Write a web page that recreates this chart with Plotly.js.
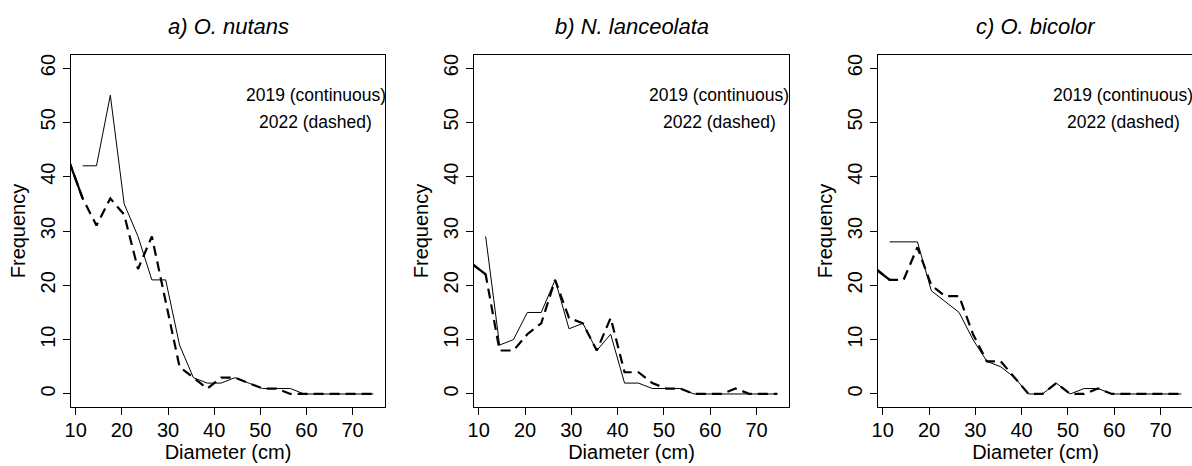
<!DOCTYPE html>
<html>
<head>
<meta charset="utf-8">
<script src="https://cdn.plot.ly/plotly-3.0.1.min.js"></script>
<style>
html, body { margin:0; padding:0; overflow:hidden; background:#fff; }
#chart { width:1194px; height:466px; }
</style>
</head>
<body>
<div id="chart"></div>
<script>
// Diameter class midpoints (cm)
const x2019 = [11.5,14.5,17.5,20.5,23.5,26.5,29.5,32.5,35.5,38.5,41.5,44.5,47.5,50.5,53.5,56.5,59.5,62.5,65.5,68.5,71.5,74.5];
const x2022 = [8.5,11.5,14.5,17.5,20.5,23.5,26.5,29.5,32.5,35.5,38.5,41.5,44.5,47.5,50.5,53.5,56.5,59.5,62.5,65.5,68.5,71.5,74.5];

// Frequencies
const nutans2019 = [42,42,55,35,29,21,21,9,3,2,2,3,2,1,1,1,0,0,0,0,0,0];
const nutans2022 = [43,36,31,36,33,23,29,17,5,3,1,3,3,2,1,1,0,0,0,0,0,0,0];
const lanceolata2019 = [29,9,10,15,15,21,12,13,8,11,2,2,1,1,1,0,0,0,0,0,0,0];
const lanceolata2022 = [24,22,8,8,11,13,21,14,13,8,14,4,4,2,1,1,0,0,0,1,0,0,0];
const bicolor2019 = [28,28,28,19,17,15,10,6,5,3,0,0,2,0,1,1,0,0,0,0,0,0];
const bicolor2022 = [23,21,21,27,20,18,18,11,6,6,3,0,0,2,0,0,1,0,0,0,0,0,0];

const panelTitles = ["a) O. nutans", "b) N. lanceolata", "c) O. bicolor"];
const xTicks = [10,20,30,40,50,60,70];
const yTicks = [0,10,20,30,40,50,60];
const label2019 = "2019 (continuous)";
const label2022 = "2022 (dashed)";

const series = [
  [nutans2019, nutans2022],
  [lanceolata2019, lanceolata2022],
  [bicolor2019, bicolor2022]
];

const W = 1194, H = 466;
const FONT = "Liberation Sans, Arial, Helvetica, sans-serif";
const boxes = [[71,385],[474,789],[878,1193]];
const yDom = [1 - 407/H, 1 - 55/H];

const traces = [];
const layout = {
  width: W, height: H,
  margin: {l:0, r:0, t:0, b:0},
  paper_bgcolor: "#fff", plot_bgcolor: "#fff",
  showlegend: false,
  font: {family: FONT, color: "#000", size: 20},
  annotations: []
};

series.forEach((s, i) => {
  const n = i === 0 ? "" : String(i + 1);
  const xa = "x" + n, ya = "y" + n;
  traces.push({x: x2019, y: s[0], xaxis: xa, yaxis: ya, mode: "lines",
               line: {color: "#000", width: 1}, hoverinfo: "skip"});
  traces.push({x: x2022, y: s[1], xaxis: xa, yaxis: ya, mode: "lines",
               line: {color: "#000", width: 2.2, dash: "10px,6px"}, hoverinfo: "skip"});
  traces.push({x: x2022.slice(0, 2), y: s[1].slice(0, 2), xaxis: xa, yaxis: ya, mode: "lines",
               line: {color: "#000", width: 2.2}, hoverinfo: "skip"});

  const axBase = {
    showline: true, mirror: true, linecolor: "#000", linewidth: 1,
    showgrid: false, zeroline: false,
    ticks: "outside", ticklen: 7, tickwidth: 1, tickcolor: "#000",
    tickfont: {family: FONT, size: 20, color: "#000"},
    tickmode: "array"
  };
  layout["xaxis" + n] = Object.assign({}, axBase, {
    domain: [boxes[i][0]/W, boxes[i][1]/W],
    anchor: ya,
    range: [8.98, 77.02],
    tickvals: xTicks,
    ticklabelstandoff: -2,
    title: {text: "Diameter (cm)", font: {family: FONT, size: 20, color: "#000"}, standoff: 4}
  });
  layout["yaxis" + n] = Object.assign({}, axBase, {
    domain: yDom,
    anchor: xa,
    range: [-2.4, 62.4],
    tickvals: yTicks,
    tickangle: -90,
    title: {text: "Frequency", font: {family: FONT, size: 20, color: "#000"}, standoff: 6}
  });

  layout.annotations.push({
    xref: "paper", yref: "paper",
    x: (boxes[i][0] + boxes[i][1]) / 2 / W, y: 1 - 26/H,
    xanchor: "center", yanchor: "middle", showarrow: false,
    text: "<i>" + panelTitles[i] + "</i>",
    font: {family: FONT, size: 22, color: "#000"}
  });
  layout.annotations.push({
    xref: xa, yref: ya, x: 62, y: 55, showarrow: false,
    xanchor: "center", yanchor: "middle",
    text: label2019, font: {family: FONT, size: 17.5, color: "#000"}
  });
  layout.annotations.push({
    xref: xa, yref: ya, x: 62, y: 50, showarrow: false,
    xanchor: "center", yanchor: "middle",
    text: label2022, font: {family: FONT, size: 17.5, color: "#000"}
  });
});

Plotly.newPlot("chart", traces, layout, {staticPlot: true, displayModeBar: false});
</script>
</body>
</html>
